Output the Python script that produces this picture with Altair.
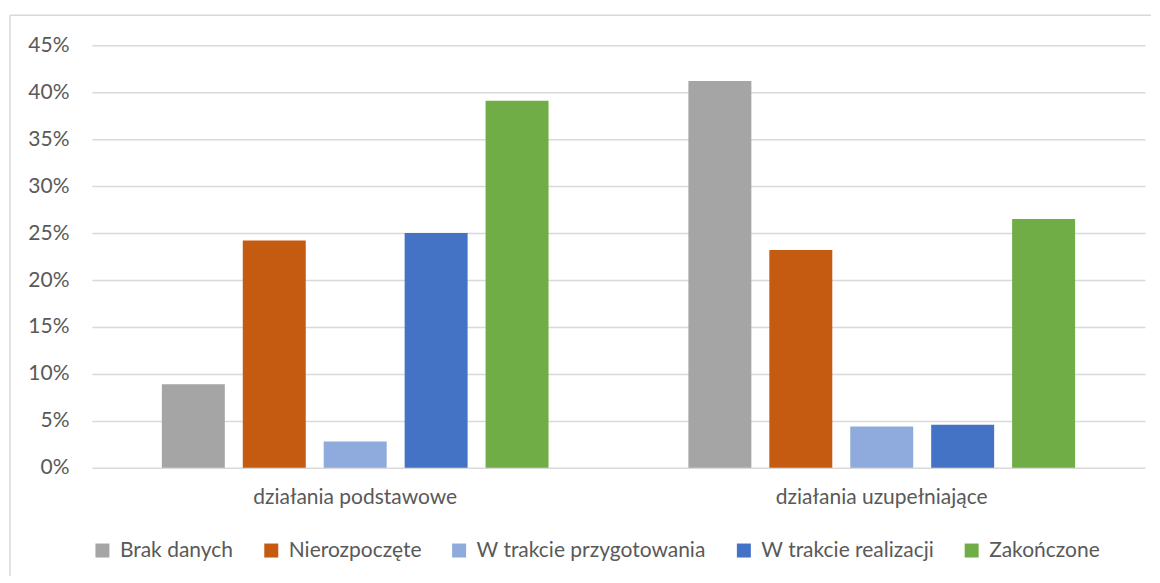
import altair as alt
import pandas as pd

categories = ["działania podstawowe", "działania uzupełniające"]
series = ["Brak danych", "Nierozpoczęte", "W trakcie przygotowania", "W trakcie realizacji", "Zakończone"]
values_podstawowe = [0.089, 0.242, 0.028, 0.250, 0.391]
values_uzupelniajace = [0.412, 0.232, 0.044, 0.046, 0.265]
colors = ["#A5A5A5", "#C55A11", "#8FAADC", "#4472C4", "#70AD47"]
y_ticks = [0, 0.05, 0.10, 0.15, 0.20, 0.25, 0.30, 0.35, 0.40, 0.45]

rows = []
for cat, vals in zip(categories, [values_podstawowe, values_uzupelniajace]):
    for s, v in zip(series, vals):
        rows.append({"kategoria": cat, "status": s, "wartosc": v})
df = pd.DataFrame(rows)

FONT = "Lato"
TXT = "#595959"
FS = 21

bars = alt.Chart(df).mark_bar().encode(
    x=alt.X("kategoria:N", sort=categories,
            scale=alt.Scale(paddingInner=0, paddingOuter=0),
            axis=alt.Axis(title=None, labelAngle=0, ticks=False, domain=False,
                          labelPadding=19, labelFontSize=FS, labelColor=TXT,
                          labelFont=FONT, labelLimit=0)),
    xOffset=alt.XOffset("status:N", sort=series,
                        scale=alt.Scale(paddingInner=0.222, paddingOuter=0.864)),
    y=alt.Y("wartosc:Q",
            scale=alt.Scale(domain=[0, 0.45], nice=False),
            axis=alt.Axis(title=None, format=".0%", values=y_ticks, ticks=False,
                          domain=False, labelPadding=23, labelFontSize=FS,
                          labelColor=TXT, labelFont=FONT, gridColor="#D9D9D9",
                          gridWidth=1.5)),
    color=alt.Color("status:N", sort=series,
                    scale=alt.Scale(domain=series, range=colors),
                    legend=alt.Legend(title=None, orient="none", direction="horizontal",
                                      legendX=0, legendY=495, symbolType="square",
                                      symbolSize=196, symbolStrokeWidth=0,
                                      labelFontSize=FS, labelColor=TXT, labelFont=FONT,
                                      labelOffset=7, columnPadding=27, padding=0,
                                      labelLimit=0)),
)

border_data = alt.Data(values=[{"a": 1}])
top_line = alt.Chart(border_data).mark_rule(color="#D9D9D9", strokeWidth=1.5).encode(
    x=alt.value(-82), x2=alt.value(1060), y=alt.value(-30))
left_line = alt.Chart(border_data).mark_rule(color="#D9D9D9", strokeWidth=1.5).encode(
    x=alt.value(-82), y=alt.value(-30), y2=alt.value(531))

chart = alt.layer(bars, top_line, left_line).properties(
    width=1054, height=423,
    padding={"left": 1, "top": 6, "right": 0, "bottom": 0},
    background="white",
).configure_view(stroke=None)

chart.save("out.html", embed_options={"renderer": "svg", "actions": False})
